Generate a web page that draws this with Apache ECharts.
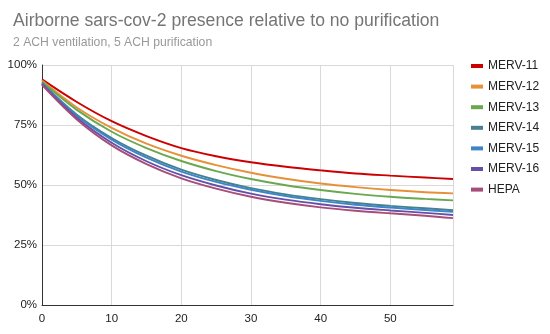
<!DOCTYPE html>
<html>
<head>
<meta charset="utf-8">
<script src="https://cdn.jsdelivr.net/npm/echarts@6/dist/echarts.min.js"></script>
<style>html,body{margin:0;padding:0;background:#fff}#c{width:550px;height:334px}</style>
</head>
<body>
<div id="c"></div>
<script>
const times = [0, 5, 10, 15, 20, 25, 30, 35, 40, 45, 50, 55, 59];
const seriesNames = ["MERV-11", "MERV-12", "MERV-13", "MERV-14", "MERV-15", "MERV-16", "HEPA"];
const merv11 = [94.0, 84.6, 76.6, 70.4, 65.4, 62.0, 59.5, 57.6, 56.1, 54.8, 53.9, 53.1, 52.5];
const merv12 = [93.5, 82.3, 73.8, 67.2, 62.2, 58.3, 55.1, 52.6, 50.6, 49.1, 47.9, 47.0, 46.5];
const merv13 = [93.0, 81.3, 72.2, 65.4, 60.0, 55.8, 52.5, 49.9, 47.9, 46.3, 45.1, 44.2, 43.6];
const merv14 = [92.5, 79.3, 69.6, 62.2, 56.4, 52.1, 48.7, 46.1, 44.1, 42.5, 41.3, 40.3, 39.5];
const merv15 = [92.3, 78.8, 68.9, 61.4, 55.6, 51.3, 48.0, 45.4, 43.4, 41.8, 40.6, 39.6, 38.8];
const merv16 = [92.0, 78.0, 67.6, 59.9, 54.1, 49.8, 46.4, 43.9, 42.0, 40.5, 39.4, 38.4, 37.5];
const hepa   = [91.7, 77.3, 66.5, 58.7, 52.8, 48.5, 45.1, 42.6, 40.7, 39.3, 38.2, 37.2, 36.2];
const xTicks = [0, 10, 20, 30, 40, 50];
const yTicks = [0, 25, 50, 75, 100];
const colors = ["#cc0000", "#e69138", "#6aa84f", "#45818e", "#3d85c6", "#674ea7", "#a64d79"];

const allValues = [merv11, merv12, merv13, merv14, merv15, merv16, hepa];
const chart = echarts.init(document.getElementById('c'));
chart.setOption({
  animation: false,
  title: {
    text: 'Airborne sars-cov-2 presence relative to no purification',
    subtext: '2 ACH ventilation, 5 ACH purification',
    left: 8, top: 7,
    textStyle: {fontFamily: 'Liberation Sans, Arial, sans-serif', fontSize: 17.6, fontWeight: 'normal', color: '#757575'},
    subtextStyle: {fontFamily: 'Liberation Sans, Arial, sans-serif', fontSize: 12.2, color: '#999999'},
    itemGap: 7
  },
  legend: {
    orient: 'vertical', left: 466, top: 55,
    icon: 'rect', itemWidth: 12, itemHeight: 4, itemGap: 8.6,
    textStyle: {fontFamily: 'Liberation Sans, Arial, sans-serif', fontSize: 12, color: '#222'},
    data: seriesNames
  },
  grid: {left: 42, right: 97, top: 65, bottom: 29, containLabel: false},
  xAxis: {
    type: 'value', min: 0, max: 59, interval: 10,
    axisLine: {lineStyle: {color: '#333', width: 1}},
    axisTick: {show: false},
    splitLine: {lineStyle: {color: '#d9d9d9'}},
    axisLabel: {
      color: '#222', fontFamily: 'Liberation Sans, Arial, sans-serif', fontSize: 11.5, margin: 8,
      showMaxLabel: false,
      formatter: v => xTicks.includes(v) ? String(v) : ''
    }
  },
  yAxis: {
    type: 'value', min: 0, max: 100, interval: 25,
    axisLine: {show: true, lineStyle: {color: '#333', width: 1}},
    axisTick: {show: false},
    splitLine: {lineStyle: {color: '#d9d9d9'}},
    axisLabel: {
      color: '#222', fontFamily: 'Liberation Sans, Arial, sans-serif', fontSize: 11.5, margin: 5,
      formatter: v => yTicks.includes(v) ? v + '%' : ''
    }
  },
  series: seriesNames.map((name, i) => ({
    name, type: 'line', smooth: 0.35, showSymbol: false,
    color: colors[i],
    lineStyle: {width: 1.9, color: colors[i]},
    data: times.map((t, j) => [t, allValues[i][j]])
  }))
});
</script>
</body>
</html>
